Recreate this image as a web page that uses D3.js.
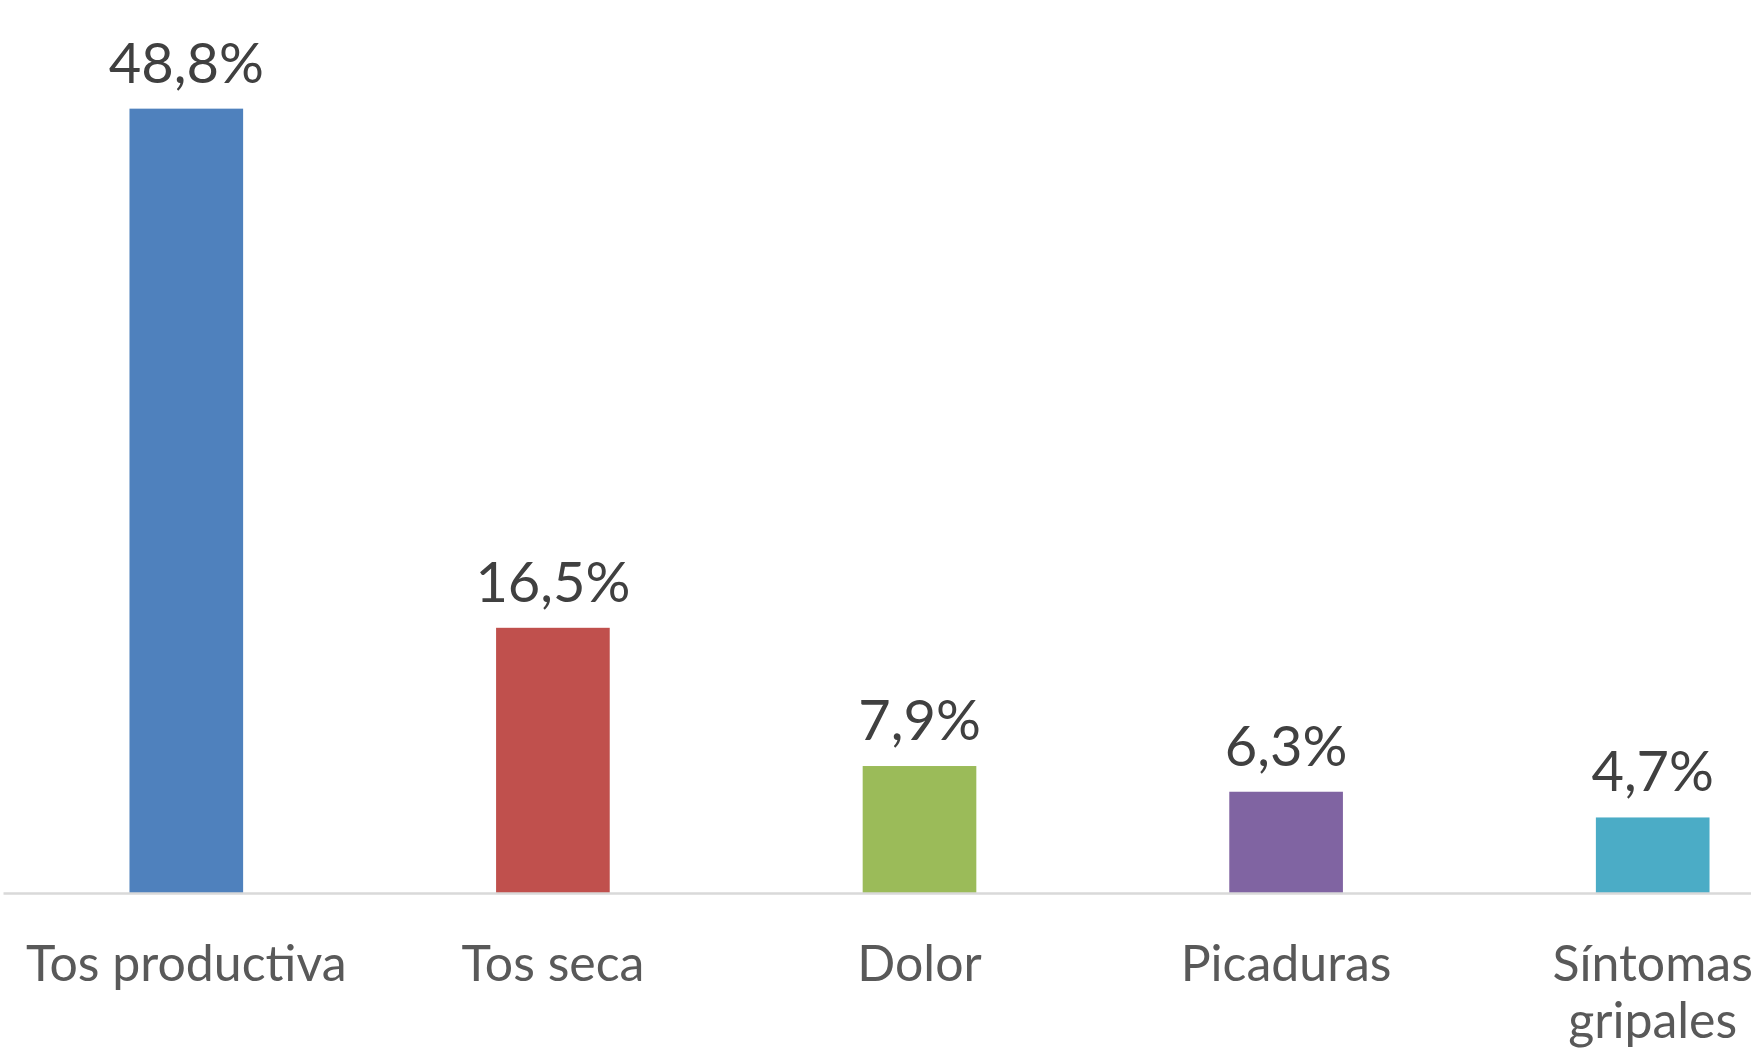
<!DOCTYPE html>
<html>
<head>
<meta charset="utf-8">
<script src="https://cdn.jsdelivr.net/npm/d3@7"></script>
<style>
  body { margin: 0; background: #fff; }
  svg { display: block; font-family: Lato, "Open Sans", sans-serif; }
</style>
</head>
<body>
<svg id="grafico"></svg>
<script>
// datos
const categorias = ["Tos productiva", "Tos seca", "Dolor", "Picaduras", "Síntomas gripales"];
const valores = [48.8, 16.5, 7.9, 6.3, 4.7];
const colores = ["#4f81bd", "#c0504d", "#9bbb59", "#8064a2", "#4bacc6"];

const width = 1751;
const height = 1054;
const baseY = 893;

const svg = d3.select("#grafico")
    .attr("width", width)
    .attr("height", height);

const es = d3.formatLocale({decimal: ",", thousands: ".", grouping: [3], currency: ["", "€"]});
const fmt = es.format(".1f");

// el area del grafico sigue por la derecha, fuera de la imagen
const x = d3.scaleBand()
    .domain(categorias)
    .range([3, 1836])
    .paddingInner(0.69)
    .paddingOuter(0.345);

const y = d3.scaleLinear()
    .domain([0, 55])
    .range([baseY, 9]);

const datos = categorias.map((c, i) => ({cat: c, valor: valores[i], color: colores[i]}));

// BARRAS
svg.append("g")
    .selectAll("rect")
    .data(datos)
    .enter().append("rect")
    .attr("x", d => x(d.cat))
    .attr("y", d => y(d.valor))
    .attr("width", x.bandwidth())
    .attr("height", d => baseY - y(d.valor))
    .attr("fill", d => d.color);

// EJE X
const ejeX = svg.append("g")
    .attr("transform", "translate(0," + baseY + ")")
    .call(d3.axisBottom(x).tickSize(0).tickSizeOuter(0).tickPadding(52));

ejeX.select(".domain")
    .attr("stroke", "#d9d9d9")
    .attr("stroke-width", 2.5);

ejeX.selectAll("text")
    .attr("fill", "#595959")
    .style("font-family", "Lato, 'Open Sans', sans-serif")
    .style("font-size", "50px")
    .call(wrap, x.step());

function wrap(textos, ancho) {
    textos.each(function() {
        const text = d3.select(this);
        const palabras = text.text().split(/\s+/);
        const y0 = text.attr("y");
        const dy0 = parseFloat(text.attr("dy"));
        text.text(null);
        let linea = [];
        let n = 0;
        let tspan = text.append("tspan").attr("x", 0).attr("y", y0).attr("dy", dy0 + "em");
        palabras.forEach(p => {
            linea.push(p);
            tspan.text(linea.join(" "));
            if (tspan.node().getComputedTextLength() > ancho && linea.length > 1) {
                linea.pop();
                tspan.text(linea.join(" "));
                linea = [p];
                n++;
                tspan = text.append("tspan").attr("x", 0).attr("y", y0)
                    .attr("dy", (dy0 + n * 1.15) + "em").text(p);
            }
        });
    });
}

// ETIQUETAS DE VALOR
svg.append("g")
    .selectAll("text")
    .data(datos)
    .enter().append("text")
    .attr("x", d => x(d.cat) + x.bandwidth() / 2)
    .attr("y", d => y(d.valor) - 26)
    .attr("text-anchor", "middle")
    .attr("fill", "#404040")
    .style("font-size", "56px")
    .text(d => fmt(d.valor) + "%");
</script>
</body>
</html>
